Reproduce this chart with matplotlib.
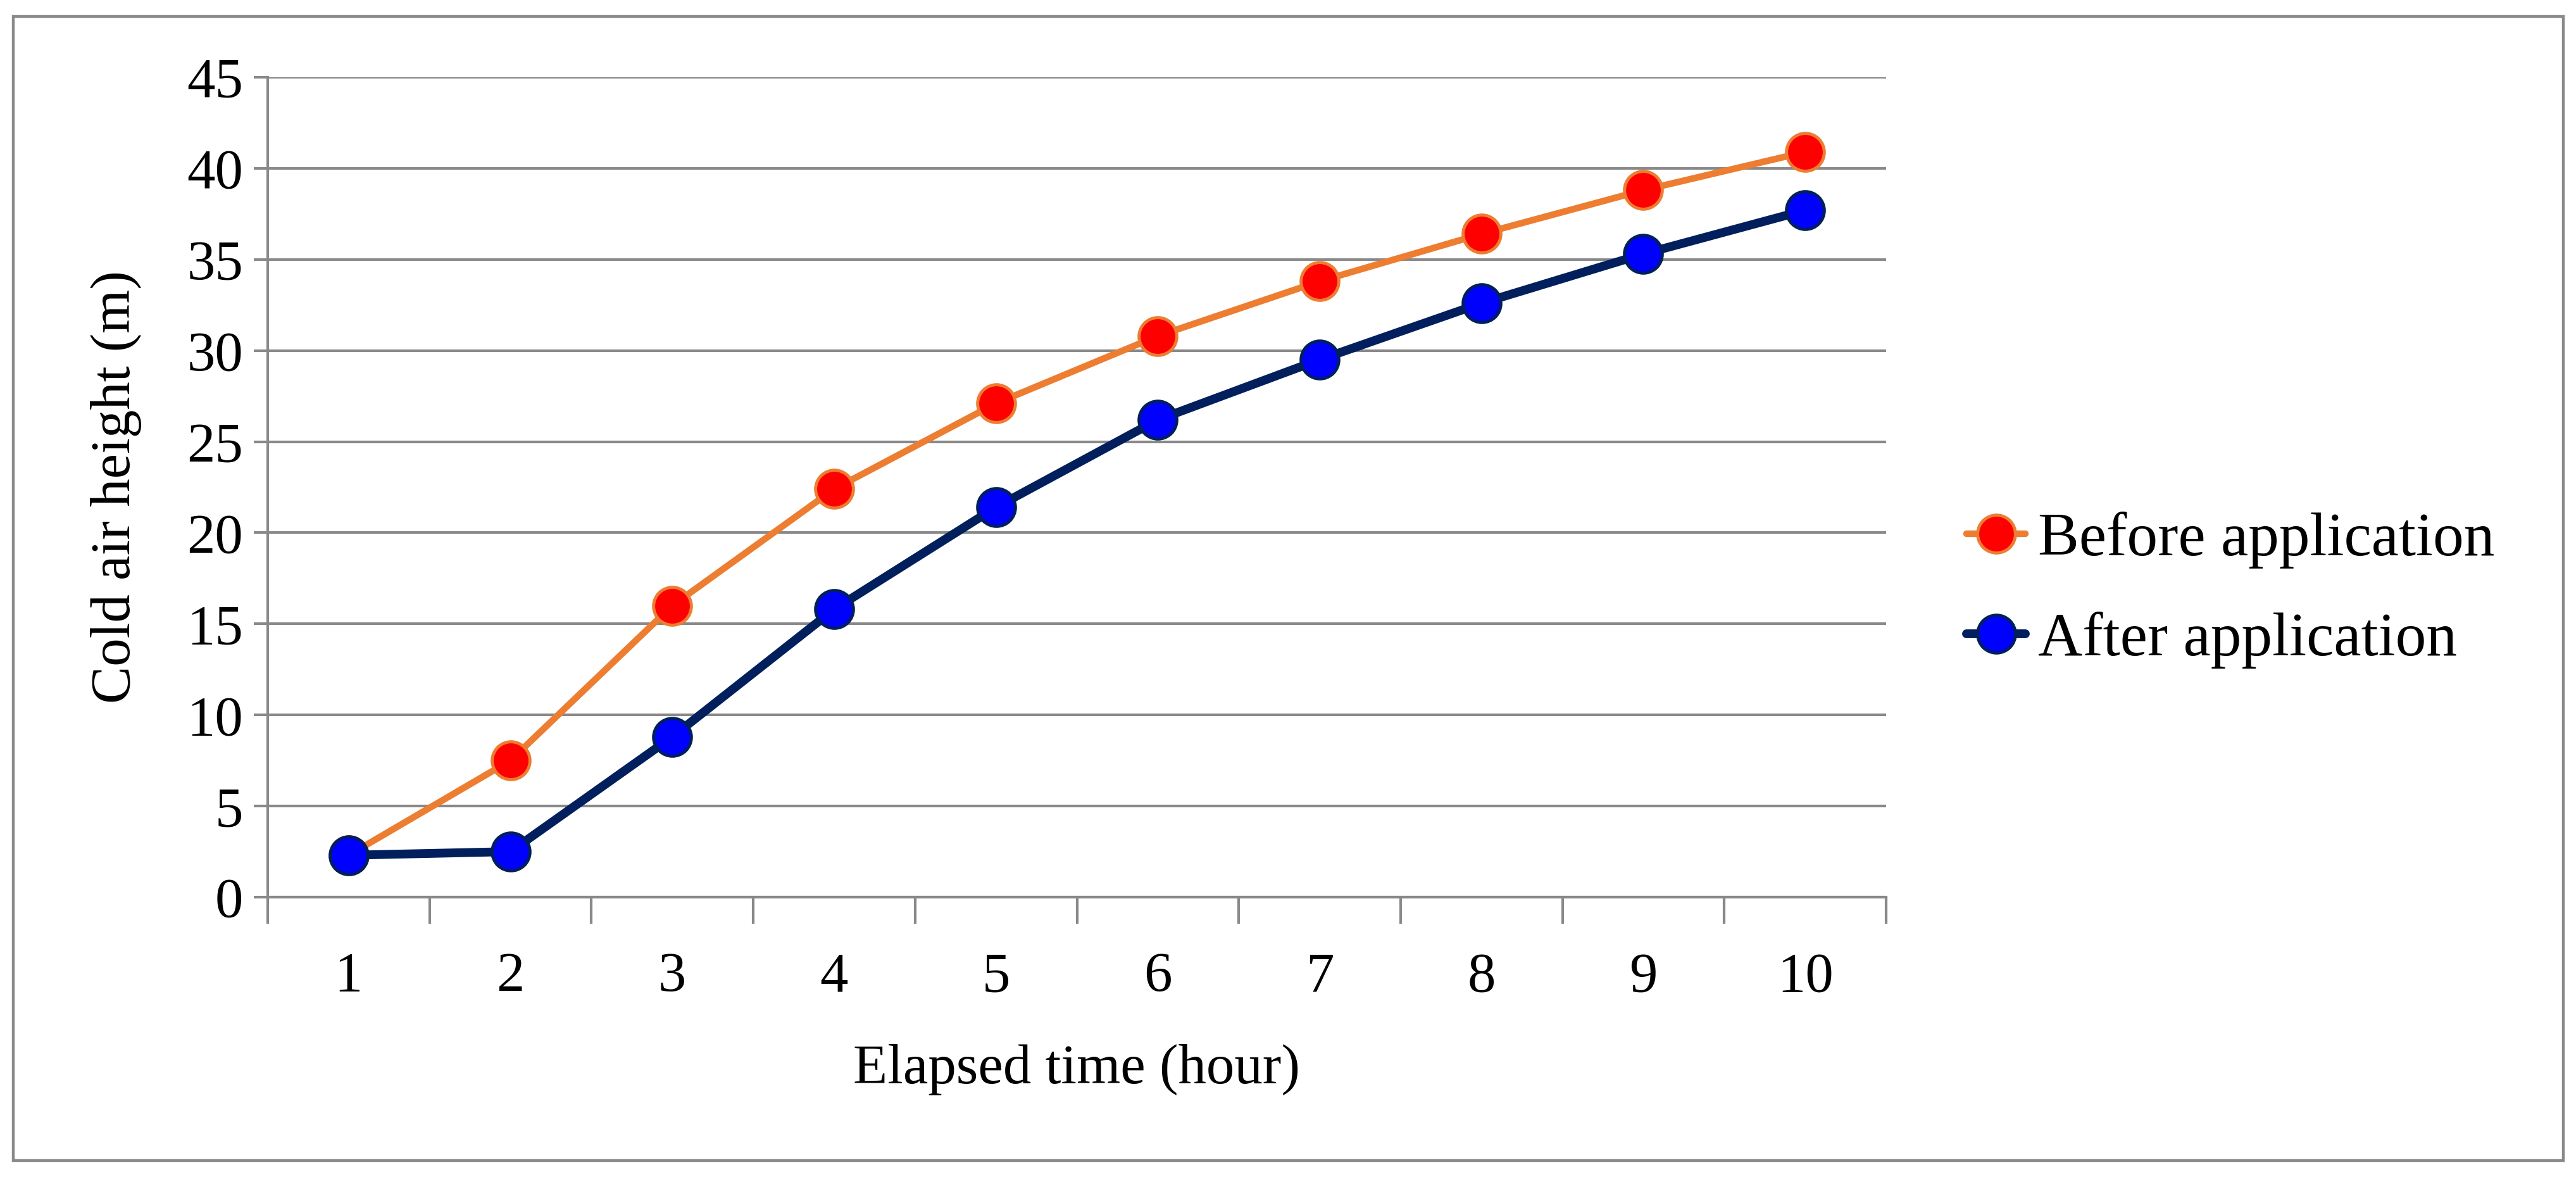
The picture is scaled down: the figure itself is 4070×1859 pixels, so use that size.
import matplotlib
matplotlib.use("Agg")
import matplotlib.pyplot as plt
from matplotlib.patches import Rectangle
from matplotlib.ticker import FixedLocator, NullFormatter

hours = [1, 2, 3, 4, 5, 6, 7, 8, 9, 10]
before = [2.3, 7.5, 16.0, 22.4, 27.1, 30.8, 33.8, 36.4, 38.8, 40.9]
after = [2.3, 2.5, 8.8, 15.8, 21.4, 26.2, 29.5, 32.6, 35.3, 37.7]
yticks = [0, 5, 10, 15, 20, 25, 30, 35, 40, 45]

plt.rcParams['font.family'] = ['Liberation Serif', 'DejaVu Serif']
FS = 64
LFS = 70
GRAY = '#898989'

W, H = 4070, 1859
fig = plt.figure(figsize=(W / 100, H / 100), dpi=100)

# outer frame
fig.patches.append(Rectangle((21 / W, 1 - 1833 / H), (4050 - 21) / W, (1833 - 26) / H,
                             transform=fig.transFigure, fill=False, edgecolor=GRAY, lw=3.2))

ax = fig.add_axes([423 / W, 1 - 1417 / H, (2980 - 423) / W, (1417 - 122) / H])

ax.plot(hours, before, color='#ED7D31', lw=7.5, marker='o', ms=43,
        markerfacecolor='#FF0000', markeredgecolor='#ED7D31', markeredgewidth=3.5,
        solid_capstyle='round', label='Before application', zorder=3)
ax.plot(hours, after, color='#001F5C', lw=10, marker='o', ms=43,
        markerfacecolor='#0000FF', markeredgecolor='#001F5C', markeredgewidth=3.5,
        solid_capstyle='round', label='After application', zorder=4)

ax.set_xlim(0.5, 10.5)
ax.set_ylim(0, 45)
ax.set_yticks(yticks)
ax.set_yticklabels([str(v) for v in yticks], fontsize=FS)
ax.set_xticks(hours)
ax.set_xticklabels([str(h) for h in hours], fontsize=FS)
ax.xaxis.set_minor_locator(FixedLocator([h - 0.5 for h in hours] + [hours[-1] + 0.5]))
ax.xaxis.set_minor_formatter(NullFormatter())
ax.tick_params(axis='x', which='major', length=0, pad=62)
ax.tick_params(axis='x', which='minor', length=30, width=3, color=GRAY)
ax.tick_params(axis='y', which='major', length=16, width=3, color=GRAY, pad=12)

ax.grid(axis='y', color=GRAY, lw=3)
ax.set_axisbelow(True)
for s in ['top', 'right']:
    ax.spines[s].set_visible(False)
for s in ['left', 'bottom']:
    ax.spines[s].set_color(GRAY)
    ax.spines[s].set_linewidth(3)

ax.set_xlabel('Elapsed time (hour)', fontsize=FS, va='center')
ax.xaxis.set_label_coords(0.5, (1417 - 1690) / 1295)
ax.set_ylabel('Cold air height (m)', fontsize=FS, ha='center', va='center')
ax.yaxis.set_label_coords((184 - 423) / 2557, 0.5)

ax.legend(loc='center left', bbox_to_anchor=(3107 / W, 1 - 932 / H),
          bbox_transform=fig.transFigure, frameon=False, fontsize=LFS,
          handlelength=0.96, handletextpad=0.2, labelspacing=0.7,
          borderpad=0, borderaxespad=0)

fig.savefig('out.png', dpi=100)
